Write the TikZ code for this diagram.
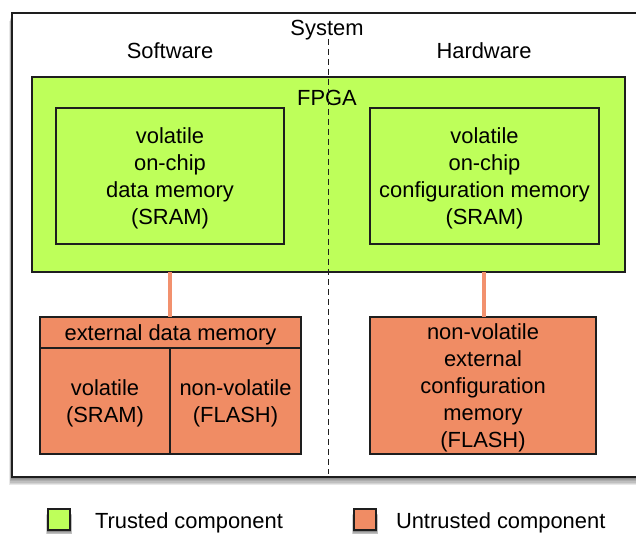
\documentclass[tikz,border=0pt]{standalone}
\usepackage{fontspec}
\setmainfont{Liberation Sans}
\definecolor{trustgreen}{RGB}{190,255,90}
\definecolor{untrust}{RGB}{240,140,100}
\definecolor{linkc}{RGB}{242,145,110}
\definecolor{edge}{RGB}{30,30,30}
\begin{document}
\begin{tikzpicture}[x=1pt,y=-1pt,
  every node/.style={font=\fontsize{21.9}{27}\selectfont, inner sep=0pt, outer sep=0pt, align=center},
  box/.style={draw=edge, line width=1.3pt, anchor=north west},
  gbox/.style={box, fill=trustgreen},
  obox/.style={box, fill=untrust},
  link/.style={draw=linkc, line width=3.6pt},
  divider/.style={draw=edge, dash pattern=on 6pt off 4pt, line width=1pt},
  lbl/.style={yshift=-2.5pt}
]
\clip (0,0) rectangle (636,534);
\fill[white] (0,0) rectangle (636,534);
% blurred shadows
\foreach \i in {1,...,7}{
  \fill[black, opacity=0.09] (12-0.4*\i,15+\i*0.8) rectangle (680,476+\i*1.3);
  \fill[black, opacity=0.09] (48-0.3*\i,511+\i*0.5) rectangle (70+0.3*\i,530+\i*0.8);
  \fill[black, opacity=0.09] (354-0.3*\i,511+\i*0.5) rectangle (376+0.3*\i,530+\i*0.8);
}
% system box
\node[box, fill=white, minimum width=660pt, minimum height=464pt] (sys) at (12,13) {};
\node[lbl] (systxt) at (327,28) {System};
\node[lbl] (sw) at (170,48) {Software};
\node[lbl] (hw) at (484,48) {Hardware};
% FPGA
\node[gbox, minimum width=593pt, minimum height=195pt] (fpga) at (32,77) {};
\node[lbl] (fpgatxt) at (327,95) {FPGA};
\node[gbox, minimum width=228pt, minimum height=136pt] (ldm) at (56,108) {};
\node[lbl] at (ldm.center) {volatile\\on-chip\\data memory\\(SRAM)};
\node[gbox, minimum width=229pt, minimum height=136pt] (rcm) at (370,108) {};
\node[lbl] at (rcm.center) {volatile\\on-chip\\configuration memory\\(SRAM)};
% external data memory
\node[obox, minimum width=261pt, minimum height=31pt] (edmh) at (40,317) {};
\node[lbl] at (edmh.center) {external data memory};
\node[obox, minimum width=130pt, minimum height=106pt] (edv) at (40,348) {};
\node[lbl] at (edv.center) {volatile\\(SRAM)};
\node[obox, minimum width=131pt, minimum height=106pt] (edn) at (170,348) {};
\node[lbl] at (edn.center) {non-volatile\\(FLASH)};
% external config memory
\node[obox, minimum width=226pt, minimum height=137pt] (ecm) at (370,317) {};
\node[lbl] at (ecm.center) {non-volatile\\external\\configuration\\memory\\(FLASH)};
% links
\coordinate (l1a) at (170,272); \coordinate (l1b) at (170,317);
\coordinate (l2a) at (484,272); \coordinate (l2b) at (484,317);
\draw[link] (fpga.south -| l1a) -- (edmh.north -| l1b);
\draw[link] (fpga.south -| l2a) -- (ecm.north -| l2b);
% divider
\coordinate (dtop) at (328,39);
\coordinate (dbot) at (328,474);
\draw[divider] (dtop) -- (dbot);
% legend
\node[gbox, line width=1.2pt, minimum width=22pt, minimum height=21pt] (lg) at (48,509) {};
\node[anchor=west, lbl] (lgt) at (95,520.5) {Trusted component};
\node[obox, line width=1.2pt, minimum width=22pt, minimum height=21pt] (lo) at (354,509) {};
\node[anchor=west, lbl] (lot) at (396,520.5) {Untrusted component};
\end{tikzpicture}
\end{document}
